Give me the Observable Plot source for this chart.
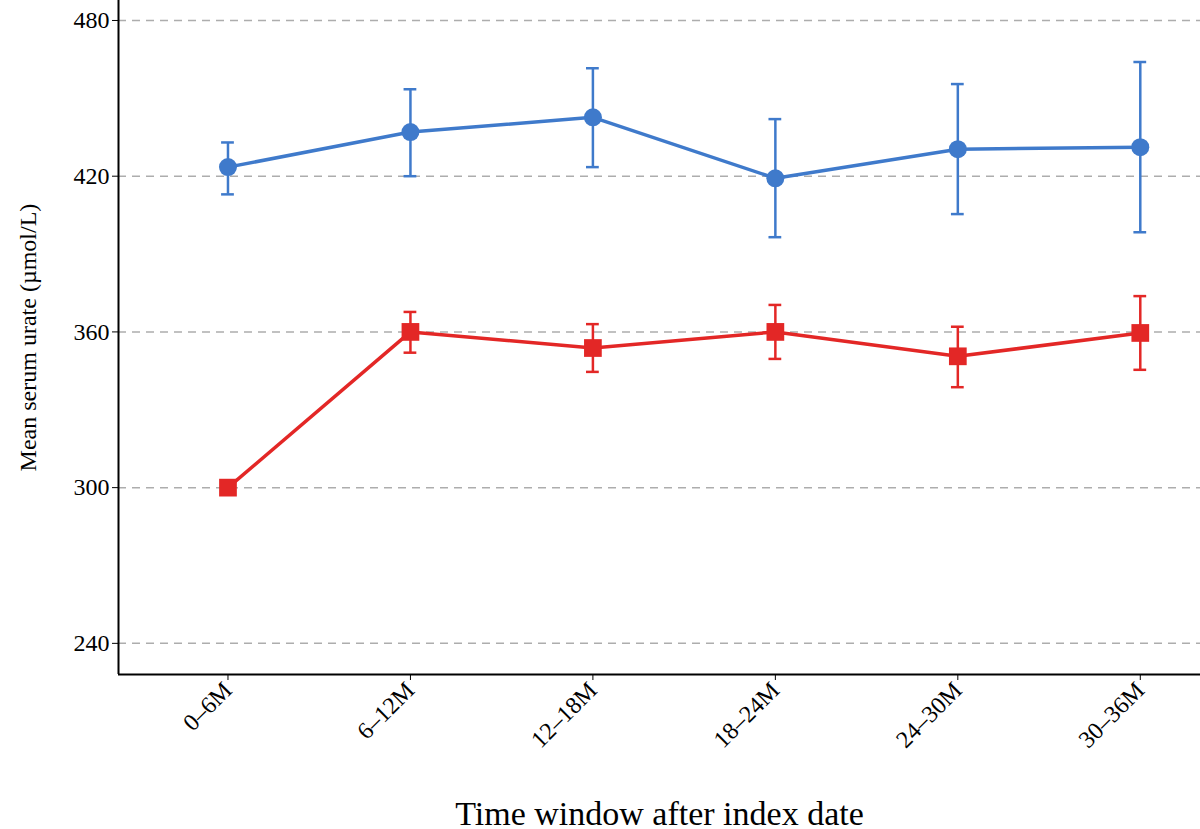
<!DOCTYPE html>
<html><head><meta charset="utf-8">
<script src="https://cdn.jsdelivr.net/npm/d3@7"></script>
<script src="https://cdn.jsdelivr.net/npm/@observablehq/plot@0.6"></script>
<style>body{margin:0;background:#fff}</style>
</head><body><div id="c"></div>
<script>
const windows = ["0–6M","6–12M","12–18M","18–24M","24–30M","30–36M"];
const blueMean = [423.5,437,442.7,419.2,430.4,431.2];
const blueLo = [413,420,423.5,396.5,405.4,398.4];
const blueHi = [433,453.5,461.6,442,455.5,464];
const redMean = [300,360,353.8,360,350.6,359.6];
const redLo = [300,352,344.6,349.6,338.7,345.4];
const redHi = [300,367.7,363,370.4,362,373.8];
const yTicks = [240,300,360,420,480];

const capHalf = 0.035;
const mk = (m,lo,hi)=>windows.map((w,i)=>({i,m:m[i],lo:lo[i],hi:hi[i],a:i-capHalf,b:i+capHalf}));
const blue = mk(blueMean,blueLo,blueHi);
const red = mk(redMean,redLo,redHi).map((d,i)=>i===0?{...d,a:d.i,b:d.i}:d);
const B="#3f7acb", R="#e32726";
const chart = Plot.plot({
  width:1200, height:829, marginLeft:118, marginRight:0, marginTop:0, marginBottom:155,
  style:{fontFamily:"Liberation Serif, serif", color:"#000"},
  x:{type:"linear", domain:[-0.6,5.33]},
  y:{domain:[228,487.7]},
  marks:[
    Plot.gridY(yTicks,{stroke:"#999",strokeOpacity:0.8,strokeDasharray:"8,6",strokeWidth:1.5}),
    Plot.axisY(yTicks,{fontSize:24,tickSize:6,stroke:"#000",label:"Mean serum urate (µmol/L)",labelAnchor:"center",labelOffset:100,labelArrow:"none"}),
    Plot.axisX(d3.range(6),{fontSize:24,tickSize:6,tickRotate:-45,tickFormat:i=>windows[i],label:null}),
    Plot.text(["Time window after index date"],{frameAnchor:"bottom",dy:150,fontSize:34,x:null,y:null}),
    Plot.ruleX([-0.6],{stroke:"#000",strokeWidth:2}),
    Plot.ruleY([228],{stroke:"#000",strokeWidth:2}),
    Plot.ruleX(blue,{x:"i",y1:"lo",y2:"hi",stroke:B,strokeWidth:2.5}),
    Plot.ruleY(blue,{x1:"a",x2:"b",y:"lo",stroke:B,strokeWidth:2.5}),
    Plot.ruleY(blue,{x1:"a",x2:"b",y:"hi",stroke:B,strokeWidth:2.5}),
    Plot.line(blue,{x:"i",y:"m",stroke:B,strokeWidth:3.5}),
    Plot.dot(blue,{x:"i",y:"m",fill:B,r:9}),
    Plot.ruleX(red,{x:"i",y1:"lo",y2:"hi",stroke:R,strokeWidth:2.5}),
    Plot.ruleY(red,{x1:"a",x2:"b",y:"lo",stroke:R,strokeWidth:2.5}),
    Plot.ruleY(red,{x1:"a",x2:"b",y:"hi",stroke:R,strokeWidth:2.5}),
    Plot.line(red,{x:"i",y:"m",stroke:R,strokeWidth:3.5}),
    Plot.dot(red,{x:"i",y:"m",fill:R,symbol:"square",r:10})
  ]
});
document.getElementById("c").append(chart);
</script></body></html>
